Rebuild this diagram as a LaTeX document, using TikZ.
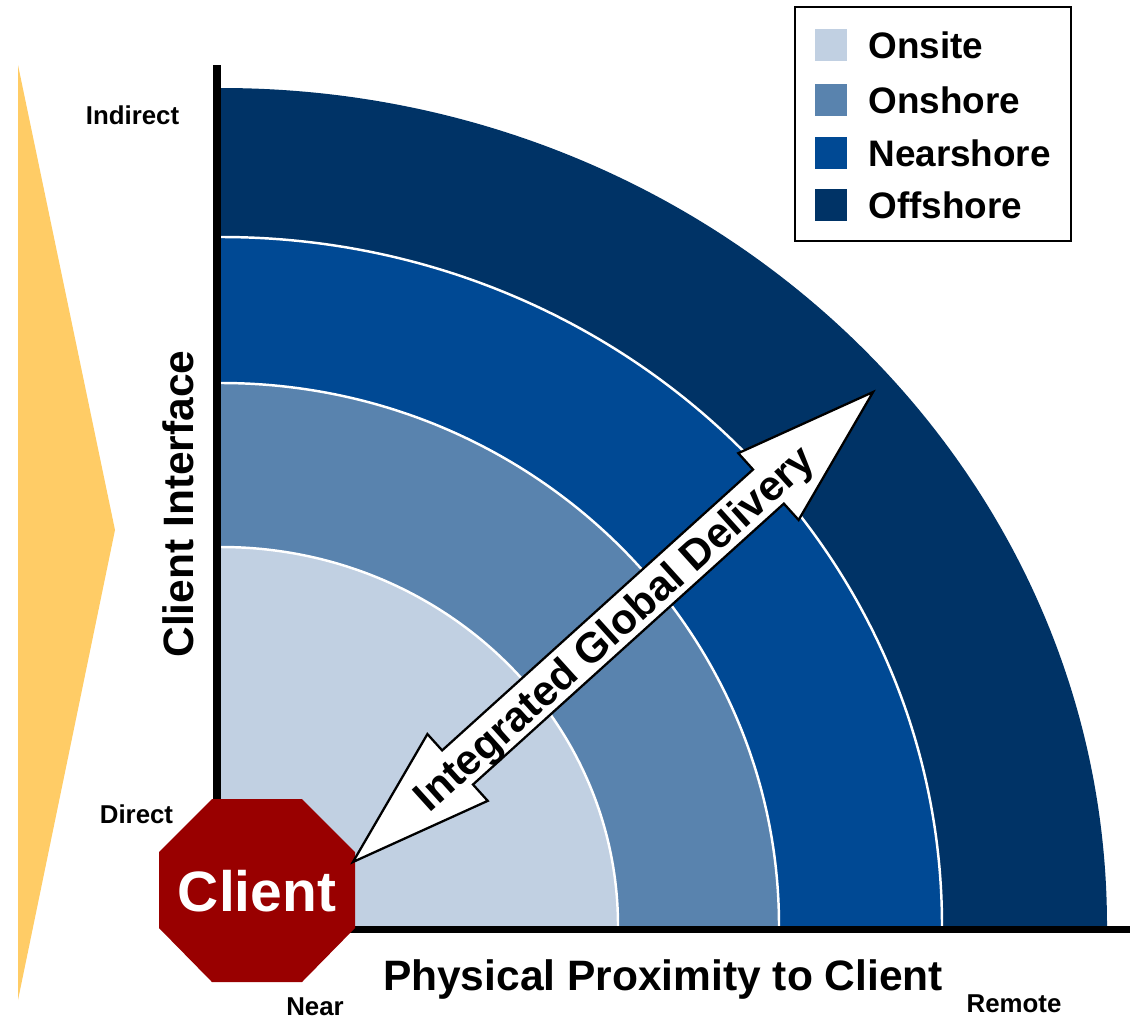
\documentclass[tikz,border=0pt]{standalone}
\usepackage{fontspec}
\setmainfont{Liberation Sans}

\definecolor{onsite}{RGB}{193,208,226}
\definecolor{onshore}{RGB}{89,131,174}
\definecolor{nearshore}{RGB}{0,73,148}
\definecolor{offshore}{RGB}{0,51,102}
\definecolor{clientred}{RGB}{153,0,0}
\definecolor{wedge}{RGB}{255,204,102}

\tikzset{
  axislabel/.style={font=\fontsize{24.2}{29}\selectfont\bfseries, inner sep=0pt, anchor=base},
  endlabel/.style={font=\fontsize{14.7}{17}\selectfont\bfseries, inner sep=0pt, anchor=base},
  legtext/.style={font=\fontsize{21}{25}\selectfont\bfseries, inner sep=0pt, anchor=base west},
  bandline/.style={white, line width=1.4pt},
}

\begin{document}
\begin{tikzpicture}[x=0.02cm,y=-0.02cm]
\useasboundingbox (0,0) rectangle (1135,1018);

% === Yellow wedge on the left ===
\fill[wedge] (18,65) -- (115,530) -- (18,1000) -- cycle;

% === Delivery bands (outer to inner) ===
\foreach \col/\a/\b in {offshore/886/838, nearshore/721/689, onshore/558/543, onsite/397/379} {
    \fill[\col] (221,926) -- ++(\a,0)
        arc[start angle=0, end angle=-90, x radius=\a, y radius=\b] -- cycle;
}
% white edges between the bands
\foreach \a/\b in {721/689, 558/543, 397/379} {
    \draw[bandline] (221+\a,926) arc[start angle=0, end angle=-90, x radius=\a, y radius=\b];
}

% === Axes ===
\draw[line width=4.3pt] (217,65) -- (217,929.5) -- (1130,929.5);

% === Client octagon ===
\fill[clientred] (212,799) -- (302,799) -- (355,852) -- (355,928)
    -- (302,982) -- (212,982) -- (159,928) -- (159,852) -- cycle;
\node[white, font=\fontsize{32.4}{38}\selectfont\bfseries, inner sep=0pt] (client) at (257,891) {Client};

% === Double arrow ===
\begin{scope}[shift={(613,627)}, rotate=42.1]
    \draw[fill=white, line width=1.3pt, line join=miter]
        (-350.5,0) -- (-209.5,-45) -- (-209.5,-23) -- (209.5,-23) -- (209.5,-45)
        -- (350.5,0) -- (209.5,45) -- (209.5,23) -- (-209.5,23) -- (-209.5,45) -- cycle;
\end{scope}
\node[font=\fontsize{24}{28}\selectfont\bfseries, rotate=42.1, anchor=base, inner sep=0pt]
    (delivery) at (623.5,638.5) {Integrated Global Delivery};

% === Axis labels ===
\node[axislabel] (proximity) at (663,990) {Physical Proximity to Client};
\node[axislabel, rotate=90] (interface) at (193,504) {Client Interface};
\node[endlabel] (indirect) at (132.5,124) {Indirect};
\node[endlabel] (direct) at (136.5,823) {Direct};
\node[endlabel] (near) at (315,1015) {Near};
\node[endlabel] (remote) at (1014,1012) {Remote};

% === Legend ===
\draw[line width=1.2pt] (795,7) rectangle (1071,241);
\foreach \col/\lab/\yy in {onsite/Onsite/29, onshore/Onshore/84, nearshore/Nearshore/137, offshore/Offshore/189} {
    \fill[\col] (815,\yy) rectangle ++(32,32);
    \node[legtext] (leg-\col) at (868,\yy+29) {\lab};
}

\end{tikzpicture}
\end{document}
